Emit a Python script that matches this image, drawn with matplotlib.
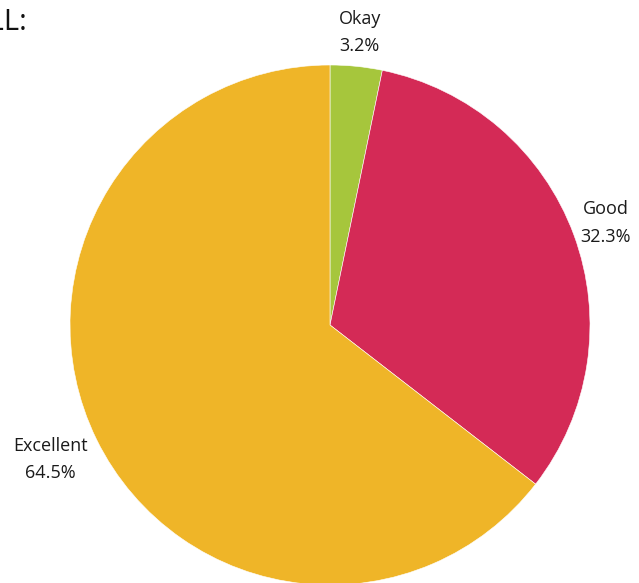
import matplotlib
matplotlib.use("Agg")
import matplotlib.pyplot as plt

labels = ["Okay", "Good", "Excellent"]
counts = [1, 10, 20]
colors = ["#a6c63c", "#d42a56", "#efb528"]

plt.rcParams["font.family"] = ["Open Sans", "DejaVu Sans"]

fig = plt.figure(figsize=(6.39, 5.83), dpi=100)
W, H = 639, 583
cx, cy, r = 330, 583 - 325, 260
ax = fig.add_axes([(cx - r) / W, (cy - r) / H, 2 * r / W, 2 * r / H])

total = sum(counts)
texts_lbl = [f"{l}\n{c / total * 100:.1f}%" for l, c in zip(labels, counts)]
wedges, texts = ax.pie(
    counts,
    labels=texts_lbl,
    colors=colors,
    startangle=90,
    counterclock=False,
    labeldistance=1.13,
    radius=1,
    wedgeprops=dict(edgecolor="white", linewidth=0.4),
    textprops=dict(fontsize=13, color="#1a1a1a", linespacing=1.65),
)
for t in texts:
    t.set_ha("center")
    t.set_va("center")
# pull the left-hand label a little further out from the rim
x, y = texts[2].get_position()
texts[2].set_position((x - 0.06, y - 0.02))
ax.set_xlim(-1, 1)
ax.set_ylim(-1, 1)
ax.set_aspect("equal")

fig.text(27 / W, 1 - 22 / H, "OVERALL:", ha="right", va="center", fontsize=21, color="#111111")

fig.savefig("out.png", dpi=100, facecolor="white")
